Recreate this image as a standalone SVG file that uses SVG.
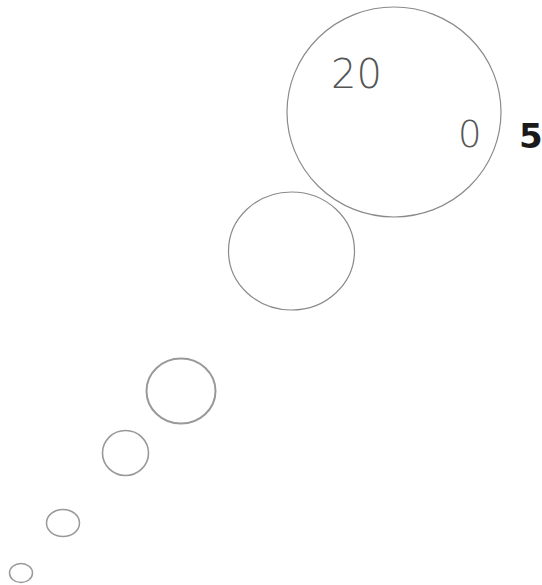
<svg xmlns="http://www.w3.org/2000/svg" width="542" height="585" viewBox="0 0 542 585">
<style>
.c{fill:none;stroke:#8a8a8a;stroke-width:1.2}
.t{font-family:"DejaVu Sans","Liberation Sans",sans-serif;fill:#555;font-weight:300}
</style>
<rect width="542" height="585" fill="#fff"/>
<g id="big"><ellipse class="c" cx="394" cy="112" rx="107" ry="105"/>
<text class="t" x="331" y="88" font-size="40">20</text>
<text class="t" x="458" y="147" font-size="37">0</text>
</g>
<g id="label5"><text x="519" y="148" font-size="34" font-weight="bold" font-family="'DejaVu Sans',sans-serif" fill="#1a1a1a">5</text></g>
<g id="c2"><ellipse class="c" cx="291.5" cy="251" rx="63" ry="59"/></g>
<g id="c3"><ellipse class="c" cx="181" cy="391" rx="34.5" ry="32.5" style="stroke:#999;stroke-width:2"/></g>
<g id="c4"><ellipse class="c" cx="125.5" cy="453" rx="23" ry="22.5" style="stroke:#999;stroke-width:1.6"/></g>
<g id="c5"><ellipse class="c" cx="63" cy="523" rx="16.5" ry="13.5" style="stroke:#999;stroke-width:1.5"/></g>
<g id="c6"><ellipse class="c" cx="21" cy="573" rx="11.5" ry="9.5" style="stroke:#999;stroke-width:1.5"/></g>
</svg>
